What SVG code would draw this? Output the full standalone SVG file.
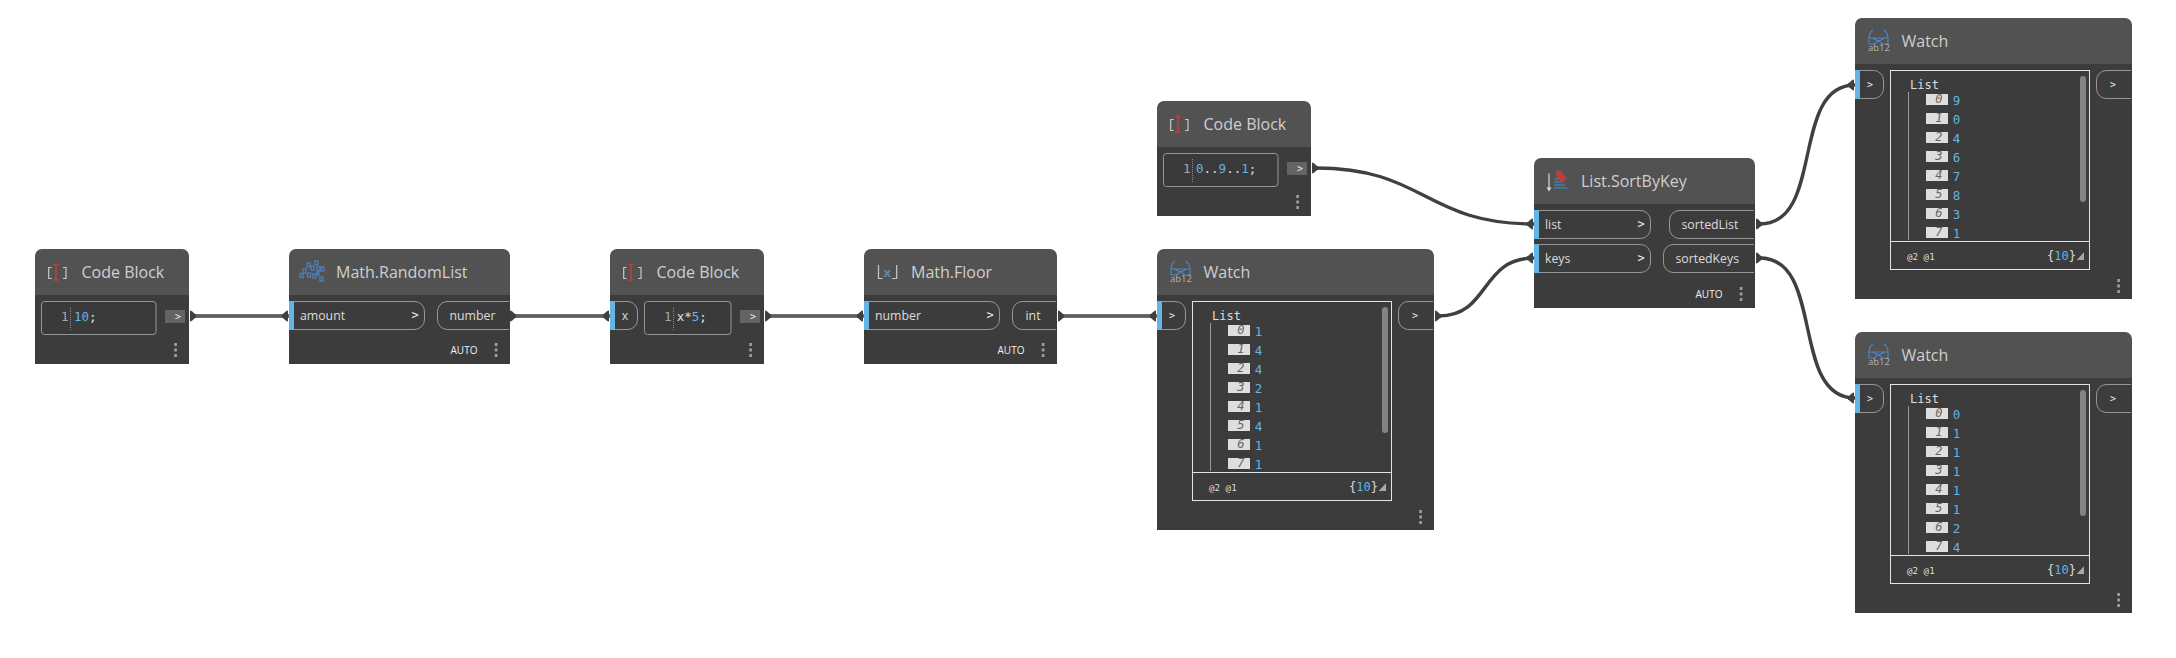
<svg xmlns="http://www.w3.org/2000/svg" xmlns:xlink="http://www.w3.org/1999/xlink" width="2176" height="658" viewBox="0 0 2176 658">
<style>
.body{fill:#3c3c3c}
.head{fill:#525252}
.title{font:16px "Open Sans","Noto Sans",sans-serif;fill:#cfcfcf}
.port{font:12.3px "Open Sans","Noto Sans",sans-serif;fill:#dcdcdc}
.auto{font:10px "Open Sans","Noto Sans",sans-serif;fill:#f0f0f0;text-anchor:middle}
.gt{font:12px "DejaVu Sans Mono",monospace;fill:#e8e8e8;text-anchor:middle}
.pill{fill:none;stroke:#969696;stroke-width:1}
.blue{fill:#62b5e5}
.box{fill:#3a3a3a;stroke:#969696;stroke-width:1}
.outbtn{fill:#646464}
.code{font:12.5px "DejaVu Sans Mono",monospace;fill:#e0e0e0}
.num{fill:#62b5e5}
.ln{font:12.5px "DejaVu Sans Mono",monospace;fill:#a8a8a8}
.sep{stroke:#8a8a8a;stroke-width:1;stroke-dasharray:1 1}
.dot{fill:#a0a0a0}
.panel{fill:none;stroke:#e4e4e4;stroke-width:1}
.scroll{fill:#838383}
.list{font:12px "DejaVu Sans Mono",monospace;fill:#dcdcdc}
.tree{stroke:#999;stroke-width:1}
.idx{fill:#dedede}
.idxt{font:italic 12px "DejaVu Sans Mono",monospace;fill:#666;text-anchor:end}
.val{font:12.5px "DejaVu Sans Mono",monospace;fill:#62b5e5}
.lvl{font:9.2px "DejaVu Sans Mono",monospace;fill:#dedede}
.cnt{font:12px "DejaVu Sans Mono",monospace;fill:#dedede}
.tri{fill:#a8a8a8}
.wire{fill:none;stroke:#404040;stroke-width:3.4}
.wirec{fill:none;stroke:#7d7d7d;stroke-width:1}
.pin{fill:#404040}
.ib{fill:none;stroke:#c8c8c8;stroke-width:1.2}
.ig{fill:none;stroke:#4a86c0;stroke-width:1.2}
.iab{font:9.5px "Open Sans","Noto Sans",sans-serif;fill:#b4b4b4}
.ix{font:bold 13px "Open Sans","Noto Sans",sans-serif;fill:#5d86b0}
</style>
<defs>
<path id="pinOut" d="M0,-5.5 C3,-5 4,-2 6,-1.700 V1.700 C4,2 3,5 0,5.500 Z"/>
<path id="pinIn" d="M0,-5.5 C-3,-5 -4,-2 -6,-1.700 V1.700 C-4,2 -3,5 0,5.500 Z"/>
<g id="dots"><rect class="dot" x="-1.2" y="0" width="2.6" height="3"/><rect class="dot" x="-1.2" y="5.5" width="2.6" height="3"/><rect class="dot" x="-1.2" y="11" width="2.6" height="3"/></g>
<g id="iconCode"><path class="ib" d="M16.700,18.500 H13.700 V29.500 H16.700 M28,18.500 H31 V29.500 H28"/><path d="M18.200,15.500 H24 M21,15.500 V31 M18.200,31 H24" fill="none" stroke="#b8403f" stroke-width="1.700"/></g>
<g id="iconWatch"><path class="ig" d="M14,20 Q14.500,14 18,12 M33,20 Q32.500,14 28.700,12 M14,20 H33 V26 H27.500 L23.500,22.500 19.500,26 H14 Z M17,20 L23.500,23 30,20"/><text class="iab" x="13" y="32.800">ab12</text></g>
</defs>

<g id="connectors">
<path class="wire" d="M195,316 H289"/><path class="wirec" d="M195,316 H289"/>
<path class="wire" d="M515,316 H610"/><path class="wirec" d="M515,316 H610"/>
<path class="wire" d="M769,316 H864"/><path class="wirec" d="M769,316 H864"/>
<path class="wire" d="M1061,316 H1157"/><path class="wirec" d="M1061,316 H1157"/>
<path class="wire" d="M1316,168 C1425,168 1425,224 1534,224"/>
<path class="wire" d="M1439,316 C1490,316 1480,258 1534,258"/>
<path class="wire" d="M1760,224 C1825,224 1790,85 1855,85"/>
<path class="wire" d="M1760,258 C1825,258 1790,398 1855,398"/>
<use class="pin" xlink:href="#pinOut" x="190" y="316"/><use class="pin" xlink:href="#pinIn" x="288" y="316"/>
<use class="pin" xlink:href="#pinOut" x="510" y="316"/><use class="pin" xlink:href="#pinIn" x="609" y="316"/>
<use class="pin" xlink:href="#pinOut" x="765" y="316"/><use class="pin" xlink:href="#pinIn" x="863" y="316"/>
<use class="pin" xlink:href="#pinOut" x="1058" y="316"/><use class="pin" xlink:href="#pinIn" x="1156" y="316"/>
<use class="pin" xlink:href="#pinOut" x="1312" y="168"/><use class="pin" xlink:href="#pinOut" x="1435" y="316"/>
<use class="pin" xlink:href="#pinIn" x="1533" y="224"/><use class="pin" xlink:href="#pinIn" x="1533" y="258"/>
<use class="pin" xlink:href="#pinOut" x="1756" y="224"/><use class="pin" xlink:href="#pinOut" x="1756" y="258"/>
<use class="pin" xlink:href="#pinIn" x="1854" y="85"/><use class="pin" xlink:href="#pinIn" x="1854" y="398"/>
</g>

<g id="code-block-1" transform="translate(35,249)">
<path class="body" d="M0,46 H154 V115 H0 Z"/><path class="head" d="M0,46 V7 A7,7 0 0 1 7,0 H147 A7,7 0 0 1 154,7 V46 Z"/>
<use xlink:href="#iconCode"/><text class="title" x="46.500" y="29">Code Block</text>
<rect class="box" x="6.500" y="52.500" width="114.500" height="33" rx="3"/>
<text class="ln" x="26" y="72">1</text><path class="sep" d="M35.500,58 V81"/><text class="code" x="39" y="72"><tspan class="num">10</tspan>;</text>
<rect class="outbtn" x="130" y="61" width="20" height="13"/><text class="gt" x="143" y="71" style="font-size:10px">&gt;</text>
<use xlink:href="#dots" x="140.500" y="94"/>
</g>

<g id="math-randomlist" transform="translate(289,249)">
<path class="body" d="M0,46 H221 V115 H0 Z"/><path class="head" d="M0,46 V7 A7,7 0 0 1 7,0 H214 A7,7 0 0 1 221,7 V46 Z"/>
<g class="ig" stroke-width="1"><rect x="11" y="24.500" width="3" height="4"/><rect x="14" y="20" width="3" height="4"/><rect x="18" y="14" width="3" height="4"/><rect x="18.500" y="24" width="3" height="4"/><rect x="22" y="17" width="3" height="4"/><rect x="24" y="25" width="3" height="4"/><rect x="26" y="12" width="3" height="4"/><rect x="28" y="18" width="3" height="4"/><rect x="32" y="18" width="3" height="4"/><rect x="31" y="28" width="3" height="4"/><rect x="28" y="23" width="2" height="3"/></g>
<text class="title" x="47" y="29">Math.RandomList</text>
<path class="pill" d="M5,52.500 H125 A10,10 0 0 1 135.500,63 V70 A10,10 0 0 1 125,80.500 H5"/><rect class="blue" x="0" y="52" width="5" height="29"/>
<text class="port" x="11" y="71">amount</text><text class="gt" x="126" y="70" style="font-size:12px">&gt;</text>
<path class="pill" d="M220,52.500 H158 A10,10 0 0 0 148.500,63 V70 A10,10 0 0 0 158,80.500 H220"/>
<text class="port" x="160.500" y="71">number</text>
<text class="auto" x="175" y="105">AUTO</text><use xlink:href="#dots" x="207" y="94"/>
</g>

<g id="code-block-2" transform="translate(610,249)">
<path class="body" d="M0,46 H154 V115 H0 Z"/><path class="head" d="M0,46 V7 A7,7 0 0 1 7,0 H147 A7,7 0 0 1 154,7 V46 Z"/>
<use xlink:href="#iconCode"/><text class="title" x="46.500" y="29">Code Block</text>
<path class="pill" d="M5,52.500 H18 A10,10 0 0 1 27.500,63 V70 A10,10 0 0 1 18,80.500 H5"/><rect class="blue" x="0" y="52" width="5" height="29"/>
<text class="port" x="11.700" y="71">x</text>
<rect class="box" x="34.500" y="52.500" width="86.500" height="33" rx="3"/>
<text class="ln" x="54" y="72">1</text><path class="sep" d="M63.500,58 V81"/><text class="code" x="66.700" y="72">x*<tspan class="num">5</tspan>;</text>
<rect class="outbtn" x="130" y="61" width="20" height="13"/><text class="gt" x="143" y="71" style="font-size:10px">&gt;</text>
<use xlink:href="#dots" x="140.500" y="94"/>
</g>

<g id="math-floor" transform="translate(864,249)">
<path class="body" d="M0,46 H193 V115 H0 Z"/><path class="head" d="M0,46 V7 A7,7 0 0 1 7,0 H186 A7,7 0 0 1 193,7 V46 Z"/>
<path class="ib" d="M14.500,16 V29.500 H18.500 M32.700,16 V29.500 H28"/><text class="ix" x="19.500" y="28">x</text>
<text class="title" x="47" y="29">Math.Floor</text>
<path class="pill" d="M5,52.500 H125 A10,10 0 0 1 135.500,63 V70 A10,10 0 0 1 125,80.500 H5"/><rect class="blue" x="0" y="52" width="5" height="29"/>
<text class="port" x="11" y="71">number</text><text class="gt" x="126" y="70" style="font-size:12px">&gt;</text>
<path class="pill" d="M192,52.500 H158 A10,10 0 0 0 148.500,63 V70 A10,10 0 0 0 158,80.500 H192"/>
<text class="port" x="161.500" y="71">int</text>
<text class="auto" x="147" y="105">AUTO</text><use xlink:href="#dots" x="179" y="94"/>
</g>

<g id="watch-1" transform="translate(1157,249)">
<path class="body" d="M0,46 H277 V281 H0 Z"/><path class="head" d="M0,46 V7 A7,7 0 0 1 7,0 H270 A7,7 0 0 1 277,7 V46 Z"/>
<use xlink:href="#iconWatch"/><text class="title" x="46.500" y="29">Watch</text>
<path class="pill" d="M5,52.500 H18 A10,10 0 0 1 28.500,63 V70 A10,10 0 0 1 18,80.500 H5"/><rect class="blue" x="0" y="52" width="5" height="29"/>
<text class="gt" x="15" y="70" style="font-size:10px">&gt;</text>
<rect class="panel" x="35.500" y="52.500" width="199" height="199"/><path class="panel" d="M35.500,223.500 H234.500"/>
<rect class="scroll" x="225" y="58" width="6" height="126" rx="3"/>
<text class="list" x="55" y="71">List</text><path class="tree" d="M53.500,74 V222"/>
<path class="pill" d="M276,52.500 H251 A10,10 0 0 0 241.500,63 V70 A10,10 0 0 0 251,80.500 H276"/><text class="gt" x="258" y="70" style="font-size:10px">&gt;</text>
<g><rect class="idx" x="71" y="76" width="22" height="11"/><text class="idxt" x="87.500" y="85.300">0</text><text class="val" x="97.700" y="86.700">1</text>
<rect class="idx" x="71" y="95" width="22" height="11"/><text class="idxt" x="87.500" y="104.300">1</text><text class="val" x="97.700" y="105.700">4</text>
<rect class="idx" x="71" y="114" width="22" height="11"/><text class="idxt" x="87.500" y="123.300">2</text><text class="val" x="97.700" y="124.700">4</text>
<rect class="idx" x="71" y="133" width="22" height="11"/><text class="idxt" x="87.500" y="142.300">3</text><text class="val" x="97.700" y="143.700">2</text>
<rect class="idx" x="71" y="152" width="22" height="11"/><text class="idxt" x="87.500" y="161.300">4</text><text class="val" x="97.700" y="162.700">1</text>
<rect class="idx" x="71" y="171" width="22" height="11"/><text class="idxt" x="87.500" y="180.300">5</text><text class="val" x="97.700" y="181.700">4</text>
<rect class="idx" x="71" y="190" width="22" height="11"/><text class="idxt" x="87.500" y="199.300">6</text><text class="val" x="97.700" y="200.700">1</text>
<rect class="idx" x="71" y="209" width="22" height="11"/><text class="idxt" x="87.500" y="218.300">7</text><text class="val" x="97.700" y="219.700">1</text></g>
<text class="lvl" x="52" y="241.700">@2 @1</text>
<text class="cnt" x="192" y="241.500">{<tspan class="num">10</tspan>}</text><path class="tri" d="M221.700,242 L229,234.300 V242 Z"/>
<use xlink:href="#dots" x="263.500" y="261"/>
</g>

<g id="code-block-3" transform="translate(1157,101)">
<path class="body" d="M0,46 H154 V115 H0 Z"/><path class="head" d="M0,46 V7 A7,7 0 0 1 7,0 H147 A7,7 0 0 1 154,7 V46 Z"/>
<use xlink:href="#iconCode"/><text class="title" x="46.500" y="29">Code Block</text>
<rect class="box" x="6.500" y="52.500" width="114.500" height="33" rx="3"/>
<text class="ln" x="26" y="72">1</text><path class="sep" d="M35.500,58 V81"/><text class="code" x="39" y="72"><tspan class="num">0</tspan>..<tspan class="num">9</tspan>..<tspan class="num">1</tspan>;</text>
<rect class="outbtn" x="130" y="61" width="20" height="13"/><text class="gt" x="143" y="71" style="font-size:10px">&gt;</text>
<use xlink:href="#dots" x="140.500" y="94"/>
</g>

<g id="list-sortbykey" transform="translate(1534,158)">
<path class="body" d="M0,46 H221 V150 H0 Z"/><path class="head" d="M0,46 V7 A7,7 0 0 1 7,0 H214 A7,7 0 0 1 221,7 V46 Z"/>
<path d="M15,15.500 V31" stroke="#d8d8d8" stroke-width="1.200" fill="none"/><path d="M12.500,29.500 H17.500 L15,33.500 Z" fill="#d8d8d8"/>
<path d="M20,21 H25 M20,24 H28 M20,27 H31 M20,30 H33" stroke="#3f8fd0" stroke-width="1.200" fill="none"/>
<path d="M21,13 L26,12.500 L32.500,20 L29,24.500 L23,21 Z" fill="#b8403f"/>
<text class="title" x="47" y="29">List.SortByKey</text>
<path class="pill" d="M5,52.500 H106 A10,10 0 0 1 116.500,63 V70 A10,10 0 0 1 106,80.500 H5"/><rect class="blue" x="0" y="52" width="5" height="29"/>
<text class="port" x="11" y="71">list</text><text class="gt" x="107" y="70" style="font-size:12px">&gt;</text>
<path class="pill" d="M5,86.500 H106 A10,10 0 0 1 116.500,97 V104 A10,10 0 0 1 106,114.500 H5"/><rect class="blue" x="0" y="86" width="5" height="29"/>
<text class="port" x="11" y="105">keys</text><text class="gt" x="107" y="104" style="font-size:12px">&gt;</text>
<path class="pill" d="M220,52.500 H145 A10,10 0 0 0 135.500,63 V70 A10,10 0 0 0 145,80.500 H220"/>
<text class="port" x="147.500" y="71">sortedList</text>
<path class="pill" d="M220,86.500 H139 A10,10 0 0 0 129.500,97 V104 A10,10 0 0 0 139,114.500 H220"/>
<text class="port" x="141.500" y="105">sortedKeys</text>
<text class="auto" x="175" y="140">AUTO</text><use xlink:href="#dots" x="207" y="129"/>
</g>

<g id="watch-2" transform="translate(1855,18)">
<path class="body" d="M0,46 H277 V281 H0 Z"/><path class="head" d="M0,46 V7 A7,7 0 0 1 7,0 H270 A7,7 0 0 1 277,7 V46 Z"/>
<use xlink:href="#iconWatch"/><text class="title" x="46.500" y="29">Watch</text>
<path class="pill" d="M5,52.500 H18 A10,10 0 0 1 28.500,63 V70 A10,10 0 0 1 18,80.500 H5"/><rect class="blue" x="0" y="52" width="5" height="29"/>
<text class="gt" x="15" y="70" style="font-size:10px">&gt;</text>
<rect class="panel" x="35.500" y="52.500" width="199" height="199"/><path class="panel" d="M35.500,223.500 H234.500"/>
<rect class="scroll" x="225" y="58" width="6" height="126" rx="3"/>
<text class="list" x="55" y="71">List</text><path class="tree" d="M53.500,74 V222"/>
<path class="pill" d="M276,52.500 H251 A10,10 0 0 0 241.500,63 V70 A10,10 0 0 0 251,80.500 H276"/><text class="gt" x="258" y="70" style="font-size:10px">&gt;</text>
<g><rect class="idx" x="71" y="76" width="22" height="11"/><text class="idxt" x="87.500" y="85.300">0</text><text class="val" x="97.700" y="86.700">9</text>
<rect class="idx" x="71" y="95" width="22" height="11"/><text class="idxt" x="87.500" y="104.300">1</text><text class="val" x="97.700" y="105.700">0</text>
<rect class="idx" x="71" y="114" width="22" height="11"/><text class="idxt" x="87.500" y="123.300">2</text><text class="val" x="97.700" y="124.700">4</text>
<rect class="idx" x="71" y="133" width="22" height="11"/><text class="idxt" x="87.500" y="142.300">3</text><text class="val" x="97.700" y="143.700">6</text>
<rect class="idx" x="71" y="152" width="22" height="11"/><text class="idxt" x="87.500" y="161.300">4</text><text class="val" x="97.700" y="162.700">7</text>
<rect class="idx" x="71" y="171" width="22" height="11"/><text class="idxt" x="87.500" y="180.300">5</text><text class="val" x="97.700" y="181.700">8</text>
<rect class="idx" x="71" y="190" width="22" height="11"/><text class="idxt" x="87.500" y="199.300">6</text><text class="val" x="97.700" y="200.700">3</text>
<rect class="idx" x="71" y="209" width="22" height="11"/><text class="idxt" x="87.500" y="218.300">7</text><text class="val" x="97.700" y="219.700">1</text></g>
<text class="lvl" x="52" y="241.700">@2 @1</text>
<text class="cnt" x="192" y="241.500">{<tspan class="num">10</tspan>}</text><path class="tri" d="M221.700,242 L229,234.300 V242 Z"/>
<use xlink:href="#dots" x="263.500" y="261"/>
</g>

<g id="watch-3" transform="translate(1855,332)">
<path class="body" d="M0,46 H277 V281 H0 Z"/><path class="head" d="M0,46 V7 A7,7 0 0 1 7,0 H270 A7,7 0 0 1 277,7 V46 Z"/>
<use xlink:href="#iconWatch"/><text class="title" x="46.500" y="29">Watch</text>
<path class="pill" d="M5,52.500 H18 A10,10 0 0 1 28.500,63 V70 A10,10 0 0 1 18,80.500 H5"/><rect class="blue" x="0" y="52" width="5" height="29"/>
<text class="gt" x="15" y="70" style="font-size:10px">&gt;</text>
<rect class="panel" x="35.500" y="52.500" width="199" height="199"/><path class="panel" d="M35.500,223.500 H234.500"/>
<rect class="scroll" x="225" y="58" width="6" height="126" rx="3"/>
<text class="list" x="55" y="71">List</text><path class="tree" d="M53.500,74 V222"/>
<path class="pill" d="M276,52.500 H251 A10,10 0 0 0 241.500,63 V70 A10,10 0 0 0 251,80.500 H276"/><text class="gt" x="258" y="70" style="font-size:10px">&gt;</text>
<g><rect class="idx" x="71" y="76" width="22" height="11"/><text class="idxt" x="87.500" y="85.300">0</text><text class="val" x="97.700" y="86.700">0</text>
<rect class="idx" x="71" y="95" width="22" height="11"/><text class="idxt" x="87.500" y="104.300">1</text><text class="val" x="97.700" y="105.700">1</text>
<rect class="idx" x="71" y="114" width="22" height="11"/><text class="idxt" x="87.500" y="123.300">2</text><text class="val" x="97.700" y="124.700">1</text>
<rect class="idx" x="71" y="133" width="22" height="11"/><text class="idxt" x="87.500" y="142.300">3</text><text class="val" x="97.700" y="143.700">1</text>
<rect class="idx" x="71" y="152" width="22" height="11"/><text class="idxt" x="87.500" y="161.300">4</text><text class="val" x="97.700" y="162.700">1</text>
<rect class="idx" x="71" y="171" width="22" height="11"/><text class="idxt" x="87.500" y="180.300">5</text><text class="val" x="97.700" y="181.700">1</text>
<rect class="idx" x="71" y="190" width="22" height="11"/><text class="idxt" x="87.500" y="199.300">6</text><text class="val" x="97.700" y="200.700">2</text>
<rect class="idx" x="71" y="209" width="22" height="11"/><text class="idxt" x="87.500" y="218.300">7</text><text class="val" x="97.700" y="219.700">4</text></g>
<text class="lvl" x="52" y="241.700">@2 @1</text>
<text class="cnt" x="192" y="241.500">{<tspan class="num">10</tspan>}</text><path class="tri" d="M221.700,242 L229,234.300 V242 Z"/>
<use xlink:href="#dots" x="263.500" y="261"/>
</g>
</svg>
